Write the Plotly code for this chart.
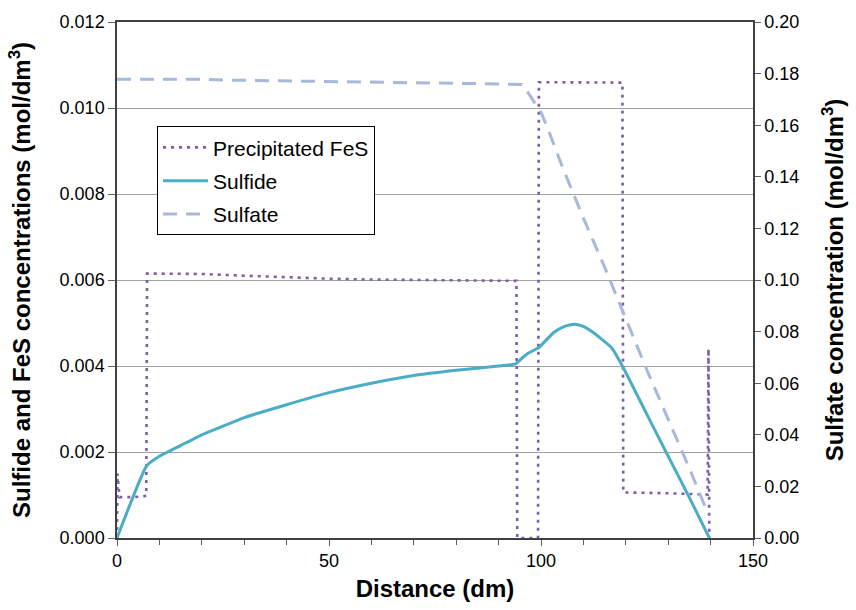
import plotly.graph_objects as go

# Distance (dm) and concentrations (mol/dm3)
fes_x = [0, 0.1, 0.6, 2, 4, 6, 6.9, 7.1, 10, 20, 30, 40, 50, 60, 70, 80, 90, 94.2,
         94.4, 99.3, 99.5, 100.5, 105, 110, 115, 119.2, 119.4, 120.2, 125, 130, 135,
         138.5, 139.3, 139.5, 139.7]
fes_y = [0, 0.0015, 0.00095, 0.00095, 0.00095, 0.00097, 0.00098, 0.00615, 0.00615, 0.00614,
         0.0061, 0.00606, 0.00603, 0.00601, 0.006, 0.006, 0.00598, 0.00598,
         0, 0, 0.0106, 0.0106, 0.01059, 0.01059, 0.01059, 0.01059, 0.00106, 0.00106, 0.00105,
         0.00104, 0.00103, 0.00102, 0.00101, 0.0044, 0]

sulfide_x = [0, 7, 10, 15, 20, 25, 30, 40, 50, 60, 70, 80, 90, 94, 95.5, 97, 99.5,
             101, 103, 105, 107, 108, 110, 112, 114, 116.6, 119.2, 125, 130, 135, 139.7]
sulfide_y = [0, 0.00168, 0.0019, 0.00215, 0.0024, 0.0026, 0.0028, 0.0031, 0.00338,
             0.0036, 0.00378, 0.0039, 0.004, 0.00405, 0.00418, 0.0043, 0.00443,
             0.00458, 0.00478, 0.0049, 0.00496, 0.00497, 0.00492, 0.0048, 0.00465,
             0.00443, 0.004, 0.00287, 0.0019, 0.00094, 0]

sulfate_x = [0, 10, 20, 25, 40, 50, 60, 70, 80, 90, 95.5, 97, 99, 100, 102, 105,
             110, 115, 120, 125, 130, 135, 139.5]
sulfate_y = [0.1778, 0.1778, 0.1778, 0.1775, 0.1772, 0.1768, 0.1766, 0.1764, 0.1762,
             0.176, 0.1758, 0.1725, 0.1675, 0.165, 0.157, 0.144, 0.124, 0.105, 0.085,
             0.065, 0.046, 0.027, 0.009]

left_ticks = [0, 0.002, 0.004, 0.006, 0.008, 0.010, 0.012]
right_ticks = [0, 0.02, 0.04, 0.06, 0.08, 0.10, 0.12, 0.14, 0.16, 0.18, 0.20]
x_ticks = [0, 50, 100, 150]

FONT = "Liberation Sans, Arial, sans-serif"

fig = go.Figure()
fig.add_trace(go.Scatter(
    x=fes_x, y=fes_y, mode="lines", name="Precipitated FeS",
    line=dict(color="#7B5EA7", width=2.6, dash="3px,5px"),
    legendgroup="a"))
fig.add_trace(go.Scatter(
    x=sulfide_x, y=sulfide_y, mode="lines", name="Sulfide",
    line=dict(color="#4BACC6", width=3, shape="spline", smoothing=0.4),
    legendgroup="b"))
fig.add_trace(go.Scatter(
    x=sulfate_x, y=sulfate_y, mode="lines", name="Sulfate", yaxis="y2",
    line=dict(color="#A7B8D9", width=3, dash="14px,9px"),
    legendgroup="c"))

fig.update_layout(
    width=856, height=610,
    margin=dict(l=117, r=101, t=19, b=71),
    paper_bgcolor="white", plot_bgcolor="white",
    font=dict(family=FONT, size=18, color="black"),
    showlegend=True,
    legend=dict(
        x=0.063, y=0.798, xanchor="left", yanchor="top",
        bordercolor="black", borderwidth=1, bgcolor="white",
        font=dict(size=21, family=FONT), tracegroupgap=3,
        itemwidth=45,
    ),
    xaxis=dict(
        range=[0, 150], tickvals=x_ticks, ticktext=[str(v) for v in x_ticks],
        ticks="outside", ticklen=6, tickcolor="#606060",
        minor=dict(dtick=10, ticks="outside", ticklen=5, tickcolor="#606060"),
        showline=True, linecolor="#404040", linewidth=1.5, mirror=True,
        showgrid=False, zeroline=False,
        title=dict(text="<b>Distance (dm)</b>", font=dict(size=24), standoff=10),
        tickfont=dict(size=18),
    ),
    yaxis=dict(
        range=[0, 0.012], tickvals=left_ticks,
        ticktext=[f"{v:.3f}" for v in left_ticks],
        ticks="outside", ticklen=7, tickcolor="#606060",
        showline=True, linecolor="#404040", linewidth=1.5,
        showgrid=True, gridcolor="#A0A0A0", gridwidth=1, zeroline=False,
        title=dict(text="<b>Sulfide and FeS concentrations (mol/dm<sup>3</sup>)</b>",
                   font=dict(size=24), standoff=22),
        tickfont=dict(size=18),
    ),
    yaxis2=dict(
        range=[0, 0.20], overlaying="y", side="right", tickvals=right_ticks,
        ticktext=[f"{v:.2f}" for v in right_ticks],
        ticks="outside", ticklen=6, tickcolor="#606060",
        showline=True, linecolor="#404040", linewidth=1.5,
        showgrid=False, zeroline=False,
        title=dict(text="<b>Sulfate concentration (mol/dm<sup>3</sup>)</b>",
                   font=dict(size=24), standoff=28),
        tickfont=dict(size=18),
    ),
)

fig.write_html("out.html")
